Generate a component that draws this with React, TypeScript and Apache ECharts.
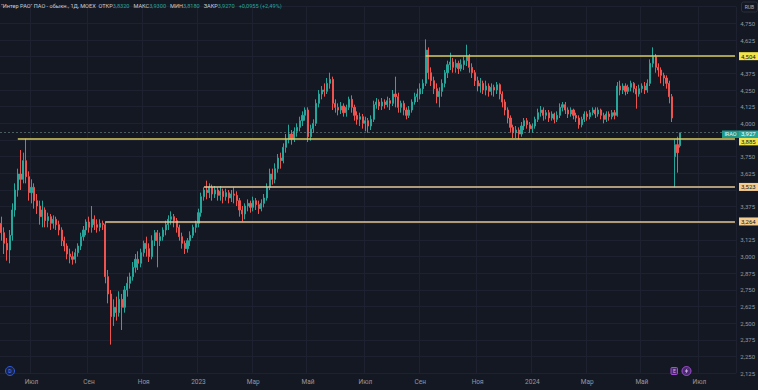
import React, { useEffect, useRef } from 'react';
import * as echarts from 'echarts';

// ---- data ----
const START_UTC = Date.UTC(2022, 4, 30); // first candle date
const STEP_DAYS = 3;
const TOTAL_SLOTS = 269; // candle slots incl. empty space on the right

// [open, close, low, high]
const candles: number[][] = [
  [3.25,3.18,3.12,3.30],[3.18,3.10,3.02,3.22],[3.10,3.05,2.97,3.14],[3.05,3.16,2.95,3.20],[3.16,3.35,3.12,3.40],[3.35,3.50,3.30,3.55],[3.50,3.62,3.45,3.66],[3.62,3.58,3.50,3.80],[3.58,3.72,3.55,3.78],[3.72,3.60,3.55,3.885],
  [3.60,3.48,3.42,3.64],[3.48,3.52,3.40,3.58],[3.52,3.42,3.36,3.55],[3.42,3.38,3.32,3.47],[3.38,3.30,3.24,3.42],[3.30,3.35,3.22,3.42],[3.35,3.27,3.22,3.37],[3.27,3.30,3.22,3.33],[3.30,3.25,3.20,3.32],[3.25,3.28,3.21,3.31],
  [3.28,3.24,3.20,3.30],[3.24,3.20,3.16,3.27],[3.20,3.12,3.08,3.22],[3.12,3.08,3.04,3.15],[3.08,3.02,2.98,3.10],[3.02,3.00,2.95,3.06],[3.00,2.98,2.94,3.04],[2.98,3.03,2.95,3.06],[3.03,3.08,3.00,3.10],[3.08,3.15,3.05,3.18],
  [3.15,3.20,3.12,3.23],[3.20,3.26,3.16,3.28],[3.26,3.22,3.18,3.30],[3.22,3.28,3.18,3.38],[3.28,3.24,3.20,3.31],[3.24,3.22,3.18,3.28],[3.22,3.25,3.19,3.28],[3.25,3.24,3.20,3.27],[3.24,2.85,2.80,3.264],[2.85,2.72,2.65,2.90],
  [2.72,2.55,2.34,2.75],[2.55,2.62,2.48,2.68],[2.62,2.58,2.52,2.70],[2.58,2.68,2.55,2.74],[2.68,2.62,2.45,2.72],[2.62,2.75,2.58,2.78],[2.75,2.80,2.70,2.85],[2.80,2.85,2.76,2.88],[2.85,2.92,2.82,2.96],[2.92,2.98,2.88,3.02],
  [2.98,2.95,2.90,3.04],[2.95,3.03,2.92,3.06],[3.03,3.10,3.00,3.12],[3.10,3.06,3.00,3.15],[3.06,3.00,2.96,3.10],[3.00,3.12,2.98,3.16],[3.12,3.18,3.08,3.20],[3.18,3.12,2.92,3.20],[3.12,3.15,3.08,3.18],[3.15,3.20,3.12,3.22],
  [3.20,3.24,3.16,3.27],[3.24,3.28,3.20,3.31],[3.28,3.30,3.24,3.34],[3.30,3.27,3.22,3.32],[3.27,3.22,3.18,3.29],[3.22,3.15,3.12,3.24],[3.15,3.10,3.06,3.18],[3.10,3.06,3.02,3.12],[3.06,3.12,3.03,3.14],[3.12,3.16,3.08,3.19],
  [3.16,3.22,3.14,3.24],[3.22,3.25,3.18,3.27],[3.25,3.33,3.22,3.36],[3.33,3.45,3.30,3.48],[3.45,3.50,3.42,3.52],[3.50,3.48,3.43,3.57],[3.48,3.52,3.44,3.55],[3.52,3.47,3.42,3.54],[3.47,3.50,3.44,3.53],[3.50,3.46,3.42,3.52],
  [3.46,3.49,3.42,3.53],[3.49,3.45,3.40,3.51],[3.45,3.48,3.42,3.51],[3.48,3.44,3.40,3.50],[3.44,3.47,3.41,3.50],[3.47,3.46,3.40,3.52],[3.46,3.42,3.38,3.49],[3.42,3.35,3.30,3.44],[3.35,3.32,3.264,3.38],[3.32,3.38,3.28,3.40],
  [3.38,3.40,3.34,3.43],[3.40,3.37,3.33,3.42],[3.37,3.42,3.34,3.45],[3.42,3.39,3.35,3.44],[3.39,3.36,3.32,3.42],[3.36,3.40,3.34,3.43],[3.40,3.44,3.37,3.47],[3.44,3.52,3.42,3.55],[3.52,3.62,3.50,3.66],[3.62,3.58,3.54,3.66],
  [3.58,3.66,3.55,3.70],[3.66,3.74,3.63,3.77],[3.74,3.72,3.66,3.78],[3.72,3.82,3.70,3.85],[3.82,3.88,3.78,3.92],[3.88,3.92,3.85,3.99],[3.92,3.88,3.84,3.95],[3.88,3.94,3.86,3.97],[3.94,3.97,3.90,4.00],[3.97,4.02,3.94,4.05],
  [4.02,4.06,3.98,4.09],[4.06,4.10,4.02,4.12],[4.10,3.90,3.86,4.12],[3.90,3.96,3.87,3.99],[3.96,4.00,3.93,4.03],[4.00,4.15,3.98,4.18],[4.15,4.22,4.12,4.25],[4.22,4.25,4.18,4.28],[4.25,4.24,4.20,4.30],[4.24,4.30,4.22,4.34],
  [4.30,4.33,4.26,4.38],[4.33,4.15,4.10,4.35],[4.15,4.12,4.08,4.18],[4.12,4.10,4.06,4.15],[4.10,4.13,4.07,4.16],[4.13,4.08,4.05,4.15],[4.08,4.12,4.05,4.14],[4.12,4.18,4.10,4.20],[4.18,4.12,4.08,4.21],[4.12,4.06,4.02,4.14],
  [4.06,4.03,3.99,4.09],[4.03,4.05,3.98,4.08],[4.05,4.00,3.96,4.07],[4.00,4.02,3.94,4.05],[4.02,3.98,3.93,4.04],[3.98,4.03,3.95,4.06],[4.03,4.14,4.01,4.17],[4.14,4.16,4.11,4.19],[4.16,4.13,4.10,4.18],[4.13,4.16,4.10,4.19],
  [4.16,4.14,4.11,4.18],[4.14,4.17,4.12,4.20],[4.17,4.15,4.10,4.19],[4.15,4.22,4.13,4.25],[4.22,4.20,4.12,4.35],[4.20,4.12,4.08,4.23],[4.12,4.15,4.08,4.17],[4.15,4.10,4.06,4.17],[4.10,4.06,4.03,4.12],[4.06,4.10,4.04,4.13],
  [4.10,4.16,4.08,4.18],[4.16,4.20,4.14,4.23],[4.20,4.22,4.16,4.26],[4.22,4.26,4.18,4.30],[4.26,4.30,4.22,4.33],[4.30,4.55,4.28,4.63],[4.55,4.38,4.33,4.57],[4.38,4.32,4.28,4.42],[4.32,4.26,4.22,4.35],[4.26,4.20,4.15,4.30],
  [4.20,4.24,4.12,4.27],[4.24,4.30,4.20,4.33],[4.30,4.38,4.27,4.40],[4.38,4.44,4.34,4.47],[4.44,4.46,4.40,4.53],[4.46,4.42,4.38,4.49],[4.42,4.45,4.38,4.48],[4.45,4.41,4.37,4.47],[4.41,4.44,4.39,4.48],[4.44,4.47,4.40,4.50],
  [4.47,4.50,4.43,4.59],[4.50,4.42,4.38,4.52],[4.42,4.38,4.34,4.45],[4.38,4.32,4.28,4.40],[4.32,4.28,4.24,4.35],[4.28,4.30,4.23,4.34],[4.30,4.25,4.22,4.32],[4.25,4.28,4.21,4.32],[4.28,4.24,4.20,4.30],[4.24,4.27,4.21,4.30],
  [4.27,4.25,4.20,4.29],[4.25,4.29,4.22,4.31],[4.29,4.22,4.18,4.30],[4.22,4.16,4.12,4.24],[4.16,4.10,4.06,4.18],[4.10,4.04,4.00,4.12],[4.04,3.97,3.93,4.06],[3.97,3.93,3.89,3.99],[3.93,3.95,3.89,3.98],[3.95,3.92,3.88,3.97],
  [3.92,3.98,3.90,4.01],[3.98,4.02,3.95,4.04],[4.02,3.99,3.96,4.04],[3.99,3.96,3.93,4.01],[3.96,3.98,3.93,4.00],[3.98,4.03,3.96,4.05],[4.03,4.08,4.01,4.11],[4.08,4.10,4.05,4.13],[4.10,4.06,4.02,4.12],[4.06,4.08,4.03,4.10],
  [4.08,4.04,4.01,4.10],[4.04,4.07,4.02,4.09],[4.07,4.03,4.00,4.08],[4.03,4.06,4.01,4.09],[4.06,4.12,4.04,4.15],[4.12,4.14,4.09,4.16],[4.14,4.10,4.07,4.16],[4.10,4.07,4.04,4.12],[4.07,4.10,4.05,4.12],[4.10,4.06,4.03,4.11],
  [4.06,4.04,4.01,4.08],[4.04,3.99,3.96,4.06],[3.99,4.03,3.97,4.05],[4.03,4.07,4.01,4.09],[4.07,4.05,4.02,4.09],[4.05,4.08,4.03,4.10],[4.08,4.10,4.06,4.12],[4.10,4.07,4.04,4.12],[4.07,4.10,4.05,4.12],[4.10,4.06,4.03,4.11],
  [4.06,4.03,4.00,4.08],[4.03,4.07,4.01,4.09],[4.07,4.05,4.02,4.09],[4.05,4.08,4.03,4.10],[4.08,4.06,4.03,4.10],[4.06,4.28,4.05,4.31],[4.28,4.25,4.21,4.32],[4.25,4.28,4.22,4.30],[4.28,4.24,4.21,4.30],[4.24,4.27,4.22,4.29],
  [4.27,4.30,4.24,4.32],[4.30,4.26,4.23,4.31],[4.26,4.22,4.11,4.28],[4.22,4.26,4.20,4.29],[4.26,4.28,4.23,4.30],[4.28,4.25,4.22,4.31],[4.25,4.30,4.23,4.33],[4.30,4.45,4.28,4.48],[4.45,4.50,4.42,4.57],[4.50,4.42,4.38,4.52],
  [4.42,4.40,4.35,4.45],[4.40,4.36,4.30,4.42],[4.36,4.34,4.28,4.38],[4.34,4.30,4.26,4.36],[4.30,4.20,4.15,4.32],[4.20,4.04,4.01,4.22],[3.75,3.84,3.52,3.88],[3.84,3.78,3.63,3.90],[3.832,3.927,3.818,3.93],
];

// horizontal levels: price, candle index where the line starts
const levelPrices = [4.504, 3.885, 3.523, 3.264];
const levelStarts = [155, 6, 74, 38];
const levelKinds = ['yellow', 'yellow', 'beige', 'beige'];

const lastPrice = 3.927;
const ticker = 'IRAO';
const headerName = '"Интер РАО" ПАО - обыкн., 1Д, MOEX';
const headerFields = [
  { label: 'ОТКР', value: '3,8320' },
  { label: 'МАКС', value: '3,9300' },
  { label: 'МИН', value: '3,8180' },
  { label: 'ЗАКР', value: '3,9270' },
];
const headerChange = '+0,0955 (+2,49%)';

const monthNames = ['Янв', 'Фев', 'Мар', 'Апр', 'Май', 'Июн', 'Июл', 'Авг', 'Сен', 'Окт', 'Ноя', 'Дек'];

const categories: string[] = [];
for (let i = 0; i < TOTAL_SLOTS; i++) {
  const d = new Date(START_UTC + i * STEP_DAYS * 86400000);
  categories.push(d.toISOString().slice(0, 10));
}

const BG = '#141823';
const GRID = '#1d2130';
const AXIS_TXT = '#9598a1';
const UP = '#26a69a';
const DOWN = '#ef5350';
const FONT = 'Roboto';

const fmt = (v: number) => v.toFixed(3).replace('.', ',');

const isLabelIdx = (idx: number) => {
  if (idx === 0) return false;
  const m = +categories[idx].slice(5, 7) - 1;
  const pm = +categories[idx - 1].slice(5, 7) - 1;
  return m !== pm && m % 2 === 0;
};

export default function App() {
  const ref = useRef<HTMLDivElement>(null);
  useEffect(() => {
    const chart = echarts.init(ref.current!, undefined, { renderer: 'svg' });
    const hidden = [...levelPrices, lastPrice];
    const lineColor = (k: string) => (k === 'yellow' ? '#d9cd5e' : '#e3c797');
    chart.setOption({
      animation: false,
      backgroundColor: BG,
      grid: { left: 0, right: 19, top: 6.7, bottom: 16.7 },
      xAxis: {
        type: 'category',
        data: categories,
        boundaryGap: true,
        axisLine: { show: false },
        axisTick: { show: false },
        axisLabel: {
          interval: (idx: number) => isLabelIdx(idx),
          formatter: (v: string) => {
            const m = +v.slice(5, 7) - 1;
            return m === 0 ? v.slice(0, 4) : monthNames[m];
          },
          color: AXIS_TXT,
          fontSize: 6.5,
          fontFamily: FONT,
          margin: 5,
        },
        splitLine: { show: true, interval: (idx: number) => isLabelIdx(idx), lineStyle: { color: GRID, width: 1 } },
      },
      yAxis: {
        type: 'value',
        position: 'right',
        min: 2.125,
        max: 4.875,
        interval: 0.125,
        axisLine: { show: false },
        axisTick: { show: false },
        splitLine: { show: true, lineStyle: { color: GRID, width: 1 } },
        axisLabel: {
          margin: 4,
          color: AXIS_TXT,
          fontSize: 6,
          fontFamily: FONT,
          formatter: (v: number) => {
            if (v > 4.8) return '';
            if (hidden.some((h) => Math.abs(h - v) < 0.03)) return '';
            return fmt(v);
          },
        },
      },
      series: [
        {
          type: 'candlestick',
          data: candles,
          barWidth: 1.6,
          itemStyle: { color: UP, color0: DOWN, borderColor: UP, borderColor0: DOWN, borderWidth: 1 },
          markLine: {
            silent: true,
            symbol: ['none', 'none'],
            label: { show: false },
            data: [
              ...levelPrices.map((p, i) => [
                { coord: [categories[levelStarts[i]], p], lineStyle: { color: lineColor(levelKinds[i]), width: 1.5, type: 'solid' } },
                { coord: [categories[TOTAL_SLOTS - 1], p] },
              ]),
              { yAxis: lastPrice, lineStyle: { color: 'rgba(120,150,150,0.55)', width: 1, type: [2, 2] } },
            ],
          },
        },
      ],
    });

    const yPx = (v: number) => chart.convertToPixel({ yAxisIndex: 0 }, v) as number;
    const txt = (text: string, x: number, y: number, fill: string, size = 6, align = 'left') => ({
      type: 'text',
      z: 100,
      style: { text, x, y, fill, fontSize: size, fontFamily: FONT, textAlign: align, textVerticalAlign: 'middle', align, verticalAlign: 'middle' },
    });
    const g: any[] = [];
    // level tags
    levelPrices.forEach((p, i) => {
      let yc = yPx(p);
      if (Math.abs(p - lastPrice) < 0.06) yc += 2.7;
      const fill = levelKinds[i] === 'yellow' ? '#f2e44b' : '#f5cd90';
      g.push({ type: 'rect', z: 99, shape: { x: 739, y: yc - 4, width: 19, height: 8 }, style: { fill } });
      g.push(txt(fmt(p), 741, yc, '#131722'));
    });
    // last price tags
    const ly = yPx(lastPrice) + 0.9;
    g.push({ type: 'rect', z: 99, shape: { x: 722, y: ly - 3.5, width: 17, height: 7.5 }, style: { fill: '#1f9888' } });
    g.push(txt(ticker, 730.5, ly, '#e8f5f3', 5.5, 'center'));
    g.push({ type: 'rect', z: 99, shape: { x: 739, y: ly - 3.5, width: 19, height: 7.5 }, style: { fill: '#26a69a' } });
    g.push(txt(fmt(lastPrice), 741, ly, '#ffffff'));
    // RUB box
    g.push({ type: 'rect', z: 99, shape: { x: 741.5, y: 2, width: 16, height: 10, r: 2 }, style: { fill: BG, stroke: '#2a2e39', lineWidth: 1 } });
    g.push(txt('RUB', 749.5, 7, '#b2b5be', 5, 'center'));
    // header (single rich text so segments flow without overlap)
    const headerText =
      '{n|' + headerName + '  }' +
      headerFields.map((f) => '{l|' + f.label + '}{v|' + f.value + '}{s| }').join('') +
      '{v|' + headerChange + '}';
    g.push({
      type: 'text',
      z: 100,
      style: {
        text: headerText,
        x: 1,
        y: 6,
        textVerticalAlign: 'middle',
        verticalAlign: 'middle',
        fontSize: 5.6,
        fontFamily: FONT,
        fill: '#c9ccd4',
        rich: {
          n: { fill: '#c9ccd4', color: '#c9ccd4', fontSize: 5.6, fontFamily: FONT },
          l: { fill: '#c9ccd4', color: '#c9ccd4', fontSize: 5.6, fontFamily: FONT },
          v: { fill: UP, color: UP, fontSize: 5.6, fontFamily: FONT },
          s: { fontSize: 5.6, fontFamily: FONT, width: 4 },
        },
      },
    });
    // "D" marker bottom-left
    g.push({ type: 'circle', z: 99, shape: { cx: 10, cy: 371, r: 4.5 }, style: { fill: '#1b2446', stroke: '#2f5bd8', lineWidth: 1 } });
    g.push(txt('D', 10, 371.3, '#5b85ff', 5, 'center'));
    // E / lightning markers
    g.push({ type: 'rect', z: 99, shape: { x: 671, y: 367.5, width: 6.5, height: 7, r: 1 }, style: { fill: '#4a2a6e', stroke: '#a24fd6', lineWidth: 1 } });
    g.push(txt('E', 674.3, 371.3, '#d7a8f5', 5, 'center'));
    g.push({ type: 'circle', z: 99, shape: { cx: 686.5, cy: 371, r: 4.5 }, style: { fill: '#4a2a6e', stroke: '#a24fd6', lineWidth: 1 } });
    g.push({ type: 'polygon', z: 100, shape: { points: [[687.5, 368], [684.8, 371.5], [686.5, 371.5], [685.5, 374], [688.2, 370.5], [686.5, 370.5]] }, style: { fill: '#e6c4ff' } });
    chart.setOption({ graphic: g });

    return () => chart.dispose();
  }, []);
  return <div ref={ref} style={{ position: 'fixed', left: 0, top: 0, width: 758, height: 390 }} />;
}
